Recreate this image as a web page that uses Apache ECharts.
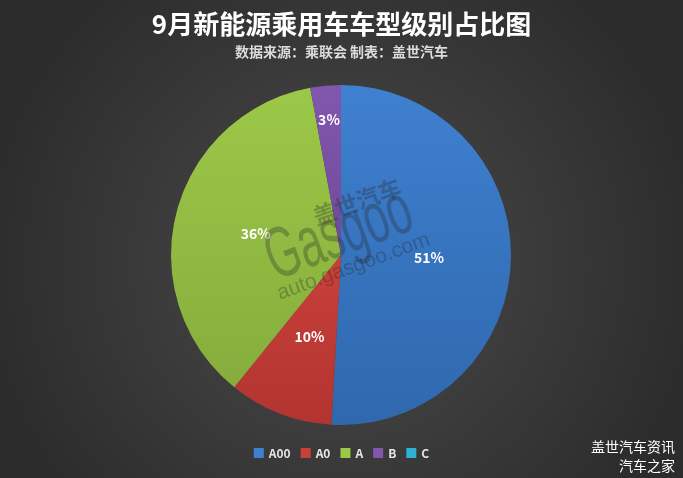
<!DOCTYPE html>
<html><head><meta charset="utf-8">
<script src="https://cdn.jsdelivr.net/npm/echarts@6/dist/echarts.min.js"></script>
<style>html,body{margin:0;padding:0;background:#3a3a3a;}#c{width:683px;height:478px;}</style>
</head><body><div id="c"></div>
<script>
const titleText = '9月新能源乘用车车型级别占比图';
const subText = '数据来源：乘联会 制表：盖世汽车';
const categories = ['A00', 'A0', 'A', 'B', 'C'];
const shares = [50.9, 9.9, 36.3, 2.9, 0];
const colorsTop = ['#3f80d0', '#c9403a', '#9cc848', '#8157ad', '#2eb0d0'];
const colorsBottom = ['#2f68ad', '#b23430', '#86ad3c', '#6f4a98', '#2590ac'];

const FONT = '"Noto Sans CJK SC", "Noto Sans", sans-serif';
const chart = echarts.init(document.getElementById('c'));
const data = categories.map((n, i) => ({
  name: n, value: shares[i],
  itemStyle: { color: new echarts.graphic.LinearGradient(0, 0, 0, 1, [
    { offset: 0, color: colorsTop[i] }, { offset: 1, color: colorsBottom[i] }]) }
}));
const wm = 'rgba(35,35,35,0.3)';
chart.setOption({
  backgroundColor: new echarts.graphic.RadialGradient(0.5, 0.55, 0.75, [
    { offset: 0, color: '#4b4b4b' }, { offset: 1, color: '#2c2c2c' }]),
  color: colorsTop,
  title: {
    text: titleText, subtext: subText, left: 'center', top: 6, itemGap: 8,
    textStyle: { color: '#ffffff', fontSize: 26, fontWeight: 'bold', fontFamily: FONT },
    subtextStyle: { color: '#dcdcdc', fontSize: 14, fontWeight: 'bold', fontFamily: FONT }
  },
  legend: {
    bottom: 14, left: 'center', itemWidth: 10, itemHeight: 10, itemGap: 10,
    icon: 'rect',
    data: categories.map((n, i) => ({ name: n, itemStyle: { color: colorsTop[i] } })),
    textStyle: { color: '#e6e6e6', fontSize: 12, fontWeight: 'bold', fontFamily: FONT }
  },
  graphic: [
    { type: 'group', x: 280, y: 300, rotation: 0.35, silent: true, z: 100,
      children: [
        { type: 'text', z: 100, x: 60, y: -66, style: { text: '盖世汽车', fill: wm, font: 'bold 23px "Noto Sans CJK SC"', verticalAlign: 'middle', align: 'left' } },
        { type: 'text', z: 100, x: 2, y: -40, scaleX: 0.6, style: { text: 'Gasgoo', fill: wm, font: '72px "Liberation Sans"', verticalAlign: 'middle', align: 'left' } },
        { type: 'text', z: 100, x: 0, y: -6, style: { text: 'auto.gasgoo.com', fill: wm, font: '21px "Liberation Sans"', verticalAlign: 'middle', align: 'left' } }
      ] },
    { type: 'text', right: 8, top: 440, style: { text: '盖世汽车资讯', fill: '#ffffff', font: '14px "Noto Sans CJK SC"' } },
    { type: 'text', right: 8, top: 459, style: { text: '汽车之家', fill: '#ffffff', font: '14px "Noto Sans CJK SC"' } }
  ],
  series: [{
    type: 'pie', center: [341, 255], radius: [0, 170], startAngle: 90, clockwise: true,
    avoidLabelOverlap: false, silent: true, z: 2,
    label: {
      show: true, position: 'inside', color: '#ffffff', fontSize: 14, fontWeight: 'bold', fontFamily: FONT,
      formatter: p => p.value > 0 ? Math.round(p.percent) + '%' : ''
    },
    labelLine: { show: false },
    labelLayout: p => p.dataIndex === 3 ? { dx: -4, dy: -48 } : {},
    data: data
  }]
});
</script></body></html>
